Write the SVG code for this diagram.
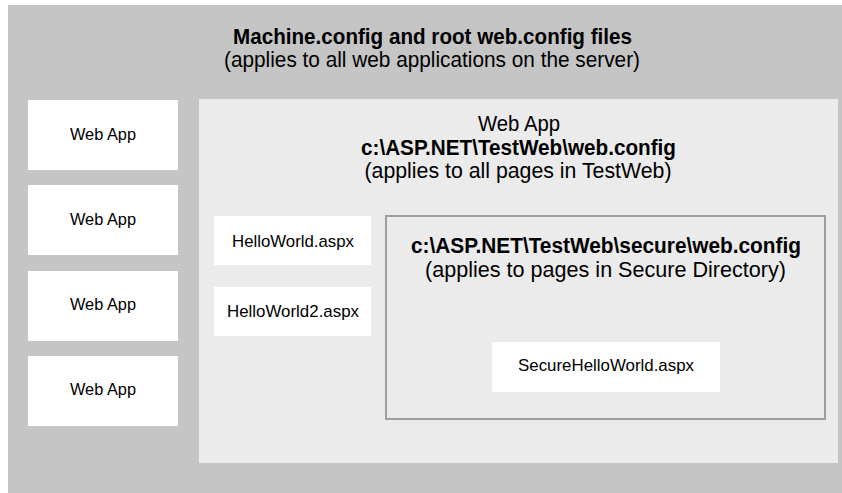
<svg xmlns="http://www.w3.org/2000/svg" width="842" height="493" viewBox="0 0 842 493">
<style>
  text { font-family: "Liberation Sans", Arial, sans-serif; fill: #000; text-anchor: middle; }
  .box { fill: #ffffff; }
  .lbl { font-size: 17px; }
  .big { font-size: 22.5px; }
  .b { font-weight: bold; }
</style>
<rect x="8" y="5" width="834" height="488" fill="#c4c5c4"/>
<g id="root">
  <text class="big b" x="432.5" y="44" textLength="399" lengthAdjust="spacingAndGlyphs">Machine.config and root web.config files</text>
  <text class="big" x="432" y="67" textLength="416" lengthAdjust="spacingAndGlyphs">(applies to all web applications on the server)</text>
</g>
<g id="webapp1"><rect class="box" x="28" y="100" width="150" height="70"/><text class="lbl" x="103" y="140" textLength="66" lengthAdjust="spacingAndGlyphs">Web App</text></g>
<g id="webapp2"><rect class="box" x="28" y="185" width="150" height="70"/><text class="lbl" x="103" y="225" textLength="66" lengthAdjust="spacingAndGlyphs">Web App</text></g>
<g id="webapp3"><rect class="box" x="28" y="271" width="150" height="70"/><text class="lbl" x="103" y="310" textLength="66" lengthAdjust="spacingAndGlyphs">Web App</text></g>
<g id="webapp4"><rect class="box" x="28" y="356" width="150" height="70"/><text class="lbl" x="103" y="395" textLength="66" lengthAdjust="spacingAndGlyphs">Web App</text></g>
<g id="testweb">
  <rect x="199" y="99" width="639" height="364" fill="#ebebeb"/>
  <text class="big" x="519" y="131" textLength="82" lengthAdjust="spacingAndGlyphs">Web App</text>
  <text class="big b" x="518.5" y="155" textLength="315" lengthAdjust="spacingAndGlyphs">c:\ASP.NET\TestWeb\web.config</text>
  <text class="big" x="518" y="178" textLength="307" lengthAdjust="spacingAndGlyphs">(applies to all pages in TestWeb)</text>
</g>
<g id="helloworld"><rect class="box" x="214" y="216" width="157" height="49"/><text class="lbl" x="293" y="247" textLength="122" lengthAdjust="spacingAndGlyphs">HelloWorld.aspx</text></g>
<g id="helloworld2"><rect class="box" x="214" y="287" width="157" height="49"/><text class="lbl" x="293" y="317" textLength="132" lengthAdjust="spacingAndGlyphs">HelloWorld2.aspx</text></g>
<g id="secure">
  <rect x="386" y="216" width="439" height="203" fill="none" stroke="#9e9e9e" stroke-width="2"/>
  <text class="big b" x="606" y="253" textLength="390" lengthAdjust="spacingAndGlyphs">c:\ASP.NET\TestWeb\secure\web.config</text>
  <text class="big" x="605.5" y="277" textLength="361" lengthAdjust="spacingAndGlyphs">(applies to pages in Secure Directory)</text>
</g>
<g id="securehelloworld"><rect class="box" x="492" y="342" width="228" height="50"/><text class="lbl" x="606" y="371" textLength="176" lengthAdjust="spacingAndGlyphs">SecureHelloWorld.aspx</text></g>
<g id="connectors"></g>
</svg>
